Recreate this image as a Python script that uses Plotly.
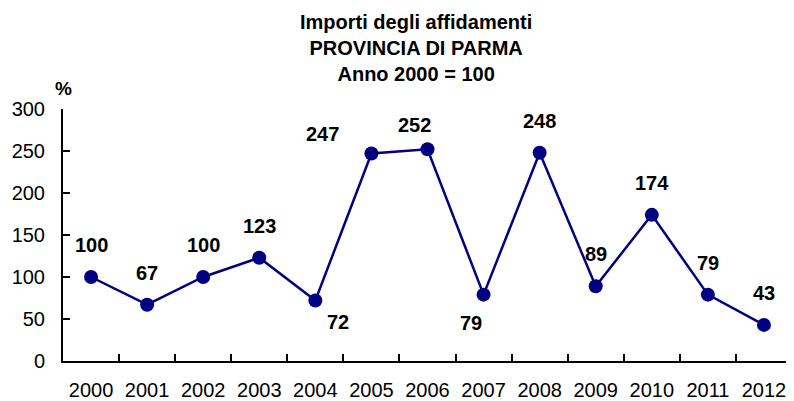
import plotly.graph_objects as go

years = ["2000", "2001", "2002", "2003", "2004", "2005", "2006",
         "2007", "2008", "2009", "2010", "2011", "2012"]
values = [100, 67, 100, 123, 72, 247, 252, 79, 248, 89, 174, 79, 43]
y_ticks = [0, 50, 100, 150, 200, 250, 300]

# label offsets (pixels) relative to each point: (dx, dy) with dy positive = up
label_offsets = [(0, 32), (0, 32), (0, 32), (0, 32), (23, -21), (-49, 20),
                 (-13, 24), (-13, -28), (0, 32), (0, 32), (0, 32), (0, 32), (0, 32)]

NAVY = "#000080"
FONT = "Liberation Sans, Arial, sans-serif"

fig = go.Figure()
fig.add_trace(go.Scatter(
    x=years, y=values, mode="lines+markers",
    line=dict(color=NAVY, width=2.5),
    marker=dict(color=NAVY, size=14),
    hoverinfo="x+y", showlegend=False,
))

for i, (v, (dx, dy)) in enumerate(zip(values, label_offsets)):
    fig.add_annotation(x=i, y=v, text=f"<b>{v}</b>", showarrow=False,
                       xshift=dx, yshift=dy, xanchor="center", yanchor="middle",
                       font=dict(family=FONT, size=20, color="black"))

fig.add_annotation(xref="paper", yref="paper", x=0, y=1, yshift=21,
                   text="<b>%</b>", showarrow=False, xanchor="center", yanchor="middle",
                   font=dict(family=FONT, size=19, color="black"))

fig.add_annotation(xref="paper", yref="paper", x=0.484, y=1, yshift=61,
                   text="<b>Importi degli affidamenti<br>PROVINCIA DI PARMA<br>Anno 2000 = 100</b>",
                   showarrow=False, xanchor="center", yanchor="middle",
                   font=dict(family=FONT, size=20, color="black"))

# page body has an 8px default margin; compensate so the plot sits where the reference's does
fig.update_layout(
    width=786, height=393,
    margin=dict(l=55, r=2, t=101, b=40),
    paper_bgcolor="white", plot_bgcolor="white",
    font=dict(family=FONT, size=20, color="black"),
    xaxis=dict(type="category", categoryorder="array", categoryarray=years,
               range=[-0.5, len(years) - 0.5], automargin=False,
               showgrid=False, showline=True, linecolor="black",
               linewidth=2, ticks="inside", tickson="boundaries", ticklen=7,
               tickwidth=2, tickcolor="black", ticklabelstandoff=10,
               tickangle=0, tickfont=dict(family=FONT, size=20)),
    yaxis=dict(range=[0, 300], tickvals=y_ticks, showgrid=False, zeroline=False,
               showline=True, linecolor="black", linewidth=2, ticks="inside",
               ticklen=7, tickwidth=2, tickcolor="black", ticklabelstandoff=12,
               automargin=False, tickfont=dict(family=FONT, size=20)),
)

fig.write_html("out.html")
